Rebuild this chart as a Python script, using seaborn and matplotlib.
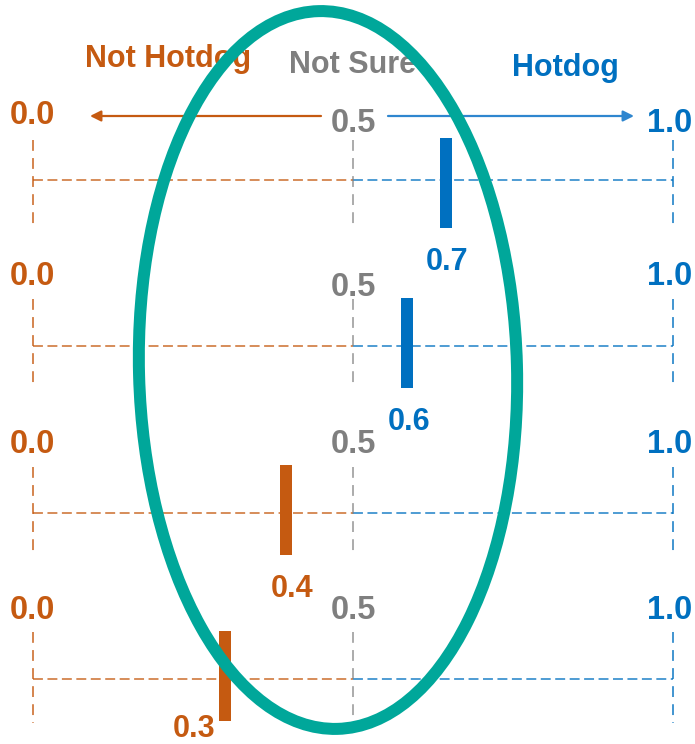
import numpy as np
import pandas as pd
import matplotlib
matplotlib.use("Agg")
import matplotlib.pyplot as plt
from matplotlib.patches import Ellipse
import seaborn as sns

# ---------------- data ----------------
rows = [0, 1, 2, 3]
bar_positions = [0.645, 0.585, 0.395, 0.300]     # where each bar sits on its 0..1 line
bar_labels = ["0.7", "0.6", "0.4", "0.3"]
bar_sides = ["hot", "hot", "not", "not"]
tick_values = [0.0, 0.5, 1.0]
tick_labels = ["0.0", "0.5", "1.0"]
headers = ["Not Hotdog", "Not Sure", "Hotdog"]

# ---------------- style ----------------
ORANGE = "#C55A11"
BLUE = "#0070C0"
GRAY = "#7F7F7F"
TEAL = "#00A79A"

sns.set_theme(style="white")
FONT = ["Liberation Sans Narrow", "Liberation Sans", "DejaVu Sans"]
plt.rcParams["font.family"] = FONT

W, H = 695, 744
fig = plt.figure(figsize=(W / 100, H / 100), dpi=100)
ax = fig.add_axes([0, 0, 1, 1])

X0_PX, UNIT_PX = 33, 640          # pixel of 0.0 and pixels per unit
ROW0_PX, ROW_PX = 180, 166.3      # pixel of first row line, row spacing
ax.set_xlim(-X0_PX / UNIT_PX, (W - X0_PX) / UNIT_PX)
ax.set_ylim((H - ROW0_PX) / ROW_PX, -ROW0_PX / ROW_PX)
ax.axis("off")


def dy(px):
    return px / ROW_PX


def xpx(px):
    return (px - X0_PX) / UNIT_PX


# ---------------- number lines (seaborn) ----------------
seg = []
for r in rows:
    seg += [dict(x=0.0, y=r, side="not", row=r), dict(x=0.5, y=r, side="not", row=r),
            dict(x=0.5, y=r, side="hot", row=r + 10), dict(x=1.0, y=r, side="hot", row=r + 10)]
seg = pd.DataFrame(seg)
sns.lineplot(data=seg, x="x", y="y", hue="side", units="row", estimator=None, sort=False,
             palette={"not": ORANGE, "hot": BLUE}, lw=1.3, alpha=0.75, legend=False, ax=ax,
             dashes=False)
for line in ax.get_lines():
    line.set_dashes((5.5, 2.5))

vert_colors = [ORANGE, GRAY, BLUE]
vert_top = [-40, -47, -46, -47]
vert_bot = [50, 43, 44, 44]
for r in rows:
    for v, c in zip(tick_values, vert_colors):
        ax.plot([v, v], [r + dy(vert_top[r]), r + dy(vert_bot[r])], color=c, lw=1.3,
                alpha=0.8 if c != GRAY else 0.7, dashes=(6, 4))

# ---------------- bars (seaborn) ----------------
bars = pd.DataFrame(dict(x=bar_positions, y=rows, side=bar_sides))
bar_mid = [3, -3, -3, -3]
sns.scatterplot(data=bars.assign(y=[r + dy(m) for r, m in zip(rows, bar_mid)]),
                x="x", y="y", hue="side", palette={"not": ORANGE, "hot": BLUE},
                marker="|", s=(90 * 0.72) ** 2, linewidth=12 * 0.72, legend=False, ax=ax,
                zorder=4)

label_dx = [1, 2, 6, -31]
label_base = [90, 84, 84, 58]
for r, x, lab, side, ddx, base in zip(rows, bar_positions, bar_labels, bar_sides, label_dx, label_base):
    ax.text(x + ddx / UNIT_PX, r + dy(base), lab, color=BLUE if side == "hot" else ORANGE,
            fontsize=22, fontweight="bold", ha="center", va="baseline", zorder=5)

# ---------------- tick labels ----------------
tick_colors = [ORANGE, GRAY, BLUE]
tick_base = [[-56, -48, -48], [-61, -50, -61], [-60, -60, -60], [-60, -60, -60]]
tick_x = [-1, 0, -3]
for r in rows:
    for v, lab, c, b, tx in zip(tick_values, tick_labels, tick_colors, tick_base[r], tick_x):
        ax.text(v + tx / UNIT_PX, r + dy(b), lab, color=c, fontsize=23.5, ha="center",
                va="baseline", fontweight="bold")

# ---------------- headers & arrows ----------------
header_x = [168, 353, 565]
header_base = [67, 73, 76]
for t, hx, hb, c in zip(headers, header_x, header_base, tick_colors):
    ax.text(xpx(hx), dy(hb - ROW0_PX), t, color=c, fontsize=22, fontweight="bold",
            ha="center", va="baseline")

ay = dy(116 - ROW0_PX)
ax.annotate("", xy=(xpx(90), ay), xytext=(xpx(321), ay),
            arrowprops=dict(arrowstyle="-|>", color=ORANGE, lw=1.6, mutation_scale=16,
                            shrinkA=0, shrinkB=0))
ax.annotate("", xy=(xpx(634), ay), xytext=(xpx(388), ay),
            arrowprops=dict(arrowstyle="-|>", color="#2F86CF", lw=1.6, mutation_scale=16,
                            shrinkA=0, shrinkB=0))

# ---------------- ellipse ----------------
ell = Ellipse((328 / 100, (H - 370) / 100), 3.78, 7.18, angle=1.5, fill=False,
              edgecolor=TEAL, lw=12 * 0.72, transform=fig.dpi_scale_trans, zorder=6)
fig.add_artist(ell)

fig.savefig("out.png", dpi=100)
